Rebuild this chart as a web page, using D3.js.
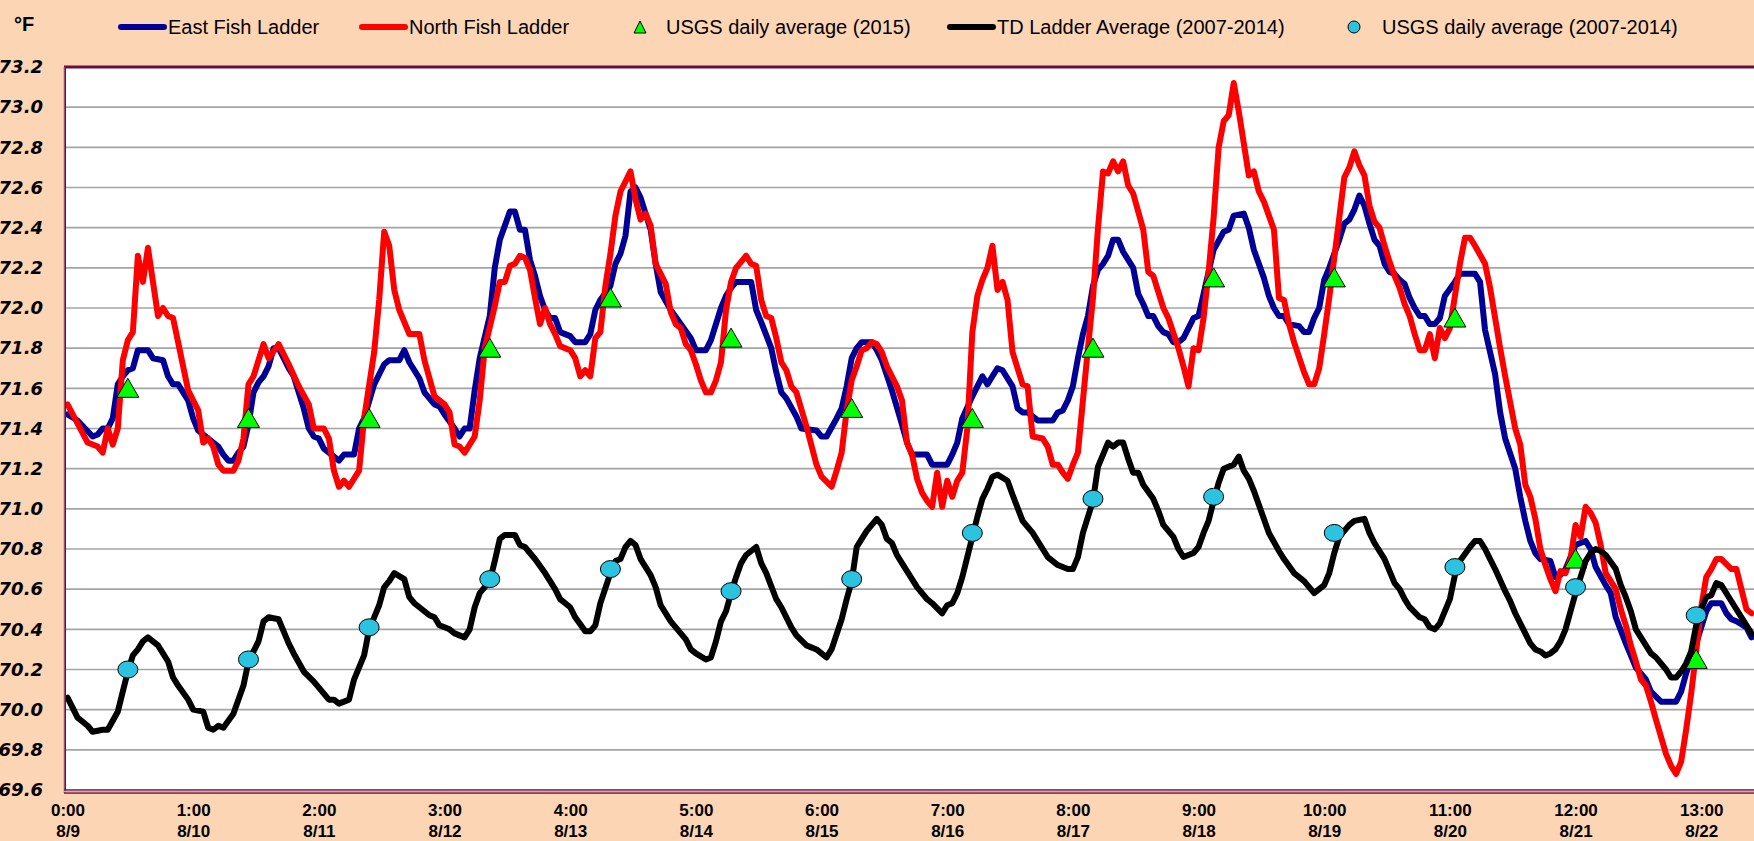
<!DOCTYPE html>
<html><head><meta charset="utf-8">
<script src="https://cdn.jsdelivr.net/npm/d3@7"></script>
<style>
html,body{margin:0;padding:0;background:#FCD5B4;overflow:hidden}
svg{display:block}
</style></head><body>
<svg id="chart" width="1754" height="841"></svg>
<script>
// ---------- DATA (hour index since 8/9 0:00, °F) ----------
const eastLadder = [[0,71.47],[2,71.44],[5,71.36],[6,71.37],[7,71.40],[8,71.40],[9,71.45],[10,71.62],[11,71.66],[12,71.69],[13,71.70],[14,71.79],[16,71.79],[17,71.75],[19,71.74],[20,71.66],[21,71.62],[22,71.62],[24,71.54],[25,71.45],[26,71.39],[28,71.35],[30,71.31],[31,71.27],[32,71.24],[33,71.24],[34,71.28],[35,71.31],[36,71.42],[37,71.58],[38,71.63],[39,71.66],[40,71.71],[41,71.80],[42,71.80],[44,71.70],[45,71.66],[47,71.50],[48,71.40],[49,71.36],[50,71.35],[51,71.30],[53,71.26],[54,71.24],[55,71.27],[57,71.27],[58,71.40],[59,71.45],[61,71.62],[63,71.72],[64,71.74],[66,71.74],[67,71.79],[68,71.73],[70,71.65],[71,71.58],[73,71.52],[74,71.51],[75,71.47],[77,71.40],[78,71.36],[79,71.40],[80,71.40],[81,71.59],[82,71.75],[84,71.96],[85,72.20],[86,72.34],[88,72.48],[89,72.48],[90,72.39],[91,72.39],[92,72.24],[93,72.16],[94,72.06],[95,71.99],[96,71.95],[97,71.95],[98,71.88],[100,71.86],[101,71.83],[103,71.83],[104,71.87],[105,71.99],[106,72.04],[108,72.11],[109,72.22],[110,72.27],[111,72.36],[112,72.58],[113,72.60],[114,72.55],[116,72.39],[117,72.22],[118,72.08],[120,71.99],[122,71.92],[124,71.85],[125,71.79],[127,71.79],[128,71.84],[130,72.00],[131,72.06],[132,72.10],[133,72.13],[136,72.13],[137,71.99],[138,71.93],[140,71.80],[141,71.68],[142,71.58],[143,71.55],[145,71.46],[146,71.40],[149,71.39],[150,71.36],[151,71.36],[153,71.45],[154,71.50],[155,71.61],[156,71.75],[157,71.80],[158,71.83],[160,71.83],[161,71.79],[162,71.74],[164,71.59],[166,71.42],[167,71.33],[168,71.27],[171,71.27],[172,71.22],[175,71.22],[176,71.27],[177,71.33],[178,71.45],[180,71.56],[181,71.61],[182,71.66],[183,71.62],[184,71.66],[185,71.70],[186,71.69],[188,71.61],[189,71.50],[190,71.48],[191,71.48],[193,71.44],[196,71.44],[197,71.48],[198,71.49],[199,71.54],[200,71.61],[201,71.75],[202,71.87],[203,71.96],[204,72.11],[205,72.19],[206,72.22],[207,72.26],[208,72.34],[209,72.34],[210,72.28],[212,72.20],[213,72.07],[214,72.02],[215,71.96],[216,71.96],[217,71.91],[218,71.88],[219,71.87],[220,71.83],[221,71.83],[222,71.85],[224,71.95],[225,71.96],[226,72.07],[227,72.18],[228,72.29],[230,72.38],[231,72.39],[232,72.46],[234,72.47],[235,72.40],[236,72.29],[238,72.15],[239,72.06],[240,72.00],[241,71.96],[242,71.96],[243,71.92],[245,71.91],[246,71.88],[247,71.88],[248,71.95],[249,72.00],[250,72.14],[251,72.20],[253,72.34],[254,72.42],[255,72.44],[256,72.49],[257,72.56],[258,72.51],[259,72.42],[260,72.34],[261,72.31],[262,72.22],[263,72.18],[264,72.17],[265,72.14],[266,72.12],[267,72.05],[268,72.00],[269,71.96],[270,71.96],[271,71.92],[272,71.92],[273,71.95],[274,72.06],[276,72.13],[277,72.17],[280,72.17],[281,72.13],[282,71.89],[284,71.67],[285,71.48],[286,71.35],[288,71.20],[289,71.06],[290,70.94],[291,70.84],[292,70.78],[293,70.75],[295,70.74],[296,70.66],[297,70.67],[298,70.70],[299,70.76],[300,70.82],[302,70.84],[303,70.80],[304,70.71],[306,70.62],[307,70.58],[308,70.46],[310,70.33],[311,70.27],[312,70.21],[314,70.15],[315,70.09],[317,70.04],[320,70.04],[321,70.09],[322,70.18],[323,70.26],[324,70.33],[325,70.41],[326,70.49],[327,70.53],[329,70.53],[330,70.48],[331,70.45],[332,70.44],[334,70.41],[335,70.36]];

const northLadder = [[0,71.52],[4,71.33],[6,71.31],[7,71.28],[8,71.40],[9,71.32],[10,71.40],[11,71.74],[12,71.84],[13,71.88],[14,72.26],[15,72.13],[16,72.30],[18,71.96],[19,72.00],[20,71.96],[21,71.95],[24,71.59],[26,71.49],[27,71.33],[28,71.35],[29,71.31],[30,71.22],[31,71.19],[33,71.19],[34,71.24],[35,71.35],[36,71.62],[37,71.66],[38,71.74],[39,71.82],[40,71.75],[42,71.82],[44,71.72],[46,71.61],[48,71.52],[49,71.40],[51,71.40],[52,71.35],[53,71.19],[54,71.11],[55,71.14],[56,71.11],[58,71.19],[59,71.45],[61,71.78],[62,72.04],[63,72.38],[64,72.31],[65,72.09],[66,71.99],[68,71.87],[70,71.87],[71,71.74],[73,71.56],[75,71.52],[76,71.48],[77,71.32],[78,71.31],[79,71.28],[81,71.36],[82,71.54],[83,71.80],[85,72.01],[86,72.13],[87,72.13],[88,72.21],[89,72.22],[90,72.26],[91,72.25],[92,72.19],[93,72.05],[94,71.92],[95,72.00],[96,71.92],[97,71.87],[98,71.81],[100,71.79],[101,71.75],[102,71.66],[103,71.69],[104,71.66],[105,71.85],[106,71.88],[107,72.11],[108,72.27],[109,72.46],[110,72.58],[112,72.68],[113,72.54],[114,72.44],[115,72.47],[116,72.41],[117,72.22],[119,72.12],[120,71.98],[121,71.92],[122,71.90],[123,71.82],[124,71.79],[125,71.72],[126,71.64],[127,71.58],[128,71.58],[129,71.64],[130,71.73],[131,71.99],[132,72.13],[133,72.20],[135,72.26],[136,72.22],[137,72.21],[138,72.04],[139,71.96],[140,71.95],[141,71.85],[142,71.73],[143,71.69],[144,71.61],[145,71.58],[147,71.41],[149,71.22],[150,71.16],[152,71.11],[153,71.19],[154,71.28],[155,71.49],[156,71.64],[157,71.71],[158,71.79],[159,71.80],[160,71.83],[161,71.82],[162,71.78],[163,71.71],[165,71.61],[166,71.54],[167,71.33],[168,71.27],[169,71.15],[170,71.08],[171,71.04],[172,71.01],[173,71.18],[174,71.01],[175,71.14],[176,71.06],[177,71.14],[178,71.18],[179,71.40],[180,71.88],[181,72.06],[182,72.14],[183,72.20],[184,72.31],[185,72.09],[186,72.13],[187,72.04],[188,71.78],[190,71.62],[191,71.61],[192,71.36],[194,71.35],[195,71.31],[196,71.22],[197,71.22],[198,71.18],[199,71.15],[200,71.22],[201,71.28],[202,71.54],[203,71.80],[204,72.05],[205,72.40],[206,72.68],[207,72.67],[208,72.73],[209,72.68],[210,72.73],[211,72.61],[212,72.57],[213,72.48],[214,72.39],[215,72.18],[216,72.16],[218,72.00],[219,71.95],[221,71.80],[222,71.71],[223,71.61],[224,71.80],[225,71.79],[226,71.95],[227,72.18],[228,72.45],[229,72.80],[230,72.93],[231,72.96],[232,73.12],[233,72.98],[234,72.82],[235,72.66],[236,72.68],[237,72.58],[238,72.53],[239,72.46],[240,72.39],[241,72.05],[242,72.04],[243,71.92],[244,71.83],[246,71.68],[247,71.62],[248,71.62],[249,71.70],[250,71.87],[251,72.05],[252,72.25],[253,72.45],[254,72.65],[255,72.70],[256,72.78],[257,72.71],[258,72.66],[259,72.51],[260,72.43],[261,72.40],[262,72.31],[263,72.23],[264,72.16],[265,72.10],[266,72.02],[267,71.96],[268,71.87],[269,71.79],[270,71.79],[271,71.87],[272,71.75],[273,71.90],[274,71.85],[275,71.90],[276,72.06],[277,72.22],[278,72.35],[279,72.35],[280,72.31],[282,72.22],[283,72.10],[284,71.95],[285,71.80],[286,71.66],[288,71.40],[289,71.32],[290,71.12],[291,71.06],[292,70.95],[293,70.80],[294,70.72],[295,70.65],[296,70.59],[297,70.69],[298,70.68],[299,70.75],[300,70.92],[301,70.86],[302,71.01],[303,70.98],[304,70.93],[305,70.82],[306,70.68],[308,70.60],[309,70.50],[310,70.42],[311,70.32],[312,70.24],[313,70.15],[314,70.12],[315,70.04],[316,69.95],[318,69.78],[319,69.72],[320,69.68],[321,69.74],[322,69.90],[323,70.08],[324,70.29],[325,70.51],[326,70.66],[327,70.70],[328,70.75],[329,70.75],[331,70.70],[332,70.70],[333,70.60],[334,70.50],[335,70.48]];

const tdLadderAvg = [[0,70.06],[1,70.01],[2,69.96],[4,69.92],[5,69.89],[7,69.90],[8,69.90],[10,69.99],[11,70.09],[12,70.19],[13,70.27],[14,70.30],[15,70.34],[16,70.36],[18,70.32],[20,70.24],[21,70.16],[22,70.12],[24,70.05],[25,70.00],[27,69.99],[28,69.91],[29,69.90],[30,69.92],[31,69.91],[33,69.98],[35,70.12],[36,70.24],[38,70.34],[39,70.44],[40,70.46],[42,70.45],[44,70.33],[45,70.28],[47,70.19],[49,70.14],[51,70.08],[52,70.05],[53,70.05],[54,70.03],[56,70.05],[57,70.15],[59,70.27],[60,70.40],[61,70.46],[62,70.52],[63,70.61],[64,70.64],[65,70.68],[67,70.65],[68,70.56],[69,70.53],[71,70.49],[72,70.47],[73,70.46],[74,70.42],[76,70.40],[77,70.38],[79,70.36],[80,70.40],[81,70.51],[82,70.58],[84,70.64],[85,70.74],[86,70.85],[87,70.87],[89,70.87],[90,70.82],[91,70.81],[93,70.75],[95,70.68],[97,70.60],[98,70.55],[100,70.51],[101,70.46],[103,70.39],[104,70.39],[105,70.42],[106,70.53],[108,70.68],[109,70.74],[110,70.75],[111,70.81],[112,70.84],[113,70.82],[114,70.75],[116,70.67],[117,70.61],[118,70.52],[120,70.44],[122,70.38],[123,70.35],[124,70.30],[125,70.28],[127,70.25],[128,70.26],[129,70.34],[130,70.44],[131,70.49],[132,70.58],[133,70.66],[134,70.73],[135,70.77],[137,70.81],[138,70.73],[139,70.68],[141,70.55],[142,70.51],[144,70.41],[145,70.37],[147,70.32],[149,70.30],[150,70.28],[151,70.26],[152,70.30],[154,70.45],[155,70.55],[156,70.64],[157,70.81],[158,70.85],[159,70.89],[161,70.95],[162,70.92],[163,70.85],[164,70.83],[165,70.77],[166,70.73],[168,70.65],[169,70.61],[171,70.55],[172,70.53],[174,70.48],[175,70.52],[176,70.53],[177,70.58],[178,70.66],[179,70.76],[180,70.86],[181,70.96],[182,71.05],[183,71.10],[184,71.16],[185,71.17],[187,71.14],[188,71.07],[190,70.94],[191,70.91],[192,70.88],[194,70.80],[195,70.76],[197,70.72],[199,70.70],[200,70.70],[201,70.76],[202,70.88],[203,70.96],[204,71.04],[205,71.21],[206,71.27],[207,71.33],[208,71.31],[209,71.33],[210,71.33],[211,71.25],[212,71.18],[213,71.18],[214,71.12],[216,71.05],[217,70.99],[218,70.92],[220,70.86],[221,70.80],[222,70.76],[224,70.78],[225,70.81],[226,70.88],[227,70.94],[228,71.04],[229,71.13],[230,71.20],[232,71.22],[233,71.26],[234,71.19],[235,71.15],[236,71.09],[237,71.02],[239,70.88],[241,70.79],[242,70.75],[244,70.68],[246,70.64],[247,70.61],[248,70.58],[250,70.62],[251,70.68],[252,70.78],[253,70.86],[255,70.92],[256,70.94],[258,70.95],[259,70.88],[260,70.83],[262,70.75],[263,70.69],[264,70.63],[265,70.60],[266,70.55],[267,70.51],[269,70.46],[270,70.45],[271,70.41],[272,70.40],[273,70.43],[275,70.55],[276,70.67],[277,70.74],[279,70.81],[280,70.84],[281,70.84],[282,70.80],[283,70.75],[284,70.70],[286,70.59],[287,70.54],[288,70.48],[290,70.38],[291,70.33],[292,70.30],[293,70.29],[294,70.27],[295,70.28],[296,70.30],[297,70.34],[298,70.40],[299,70.49],[300,70.58],[301,70.66],[302,70.74],[303,70.78],[304,70.80],[305,70.79],[306,70.77],[308,70.70],[309,70.62],[310,70.56],[311,70.49],[312,70.40],[313,70.36],[315,70.28],[316,70.26],[318,70.20],[319,70.16],[320,70.16],[321,70.19],[322,70.23],[323,70.29],[324,70.42],[325,70.50],[326,70.56],[327,70.57],[328,70.63],[329,70.62],[331,70.54],[332,70.50],[334,70.42],[335,70.38]];

const dailyHours = [12,36,60,84,108,132,156,180,204,228,252,276,300,324];
const usgsDaily2015 = [71.60,71.45,71.45,71.80,72.05,71.85,71.50,71.45,71.80,72.15,72.15,71.95,70.75,70.25];
const usgsDailyAvg = [70.20,70.25,70.41,70.65,70.70,70.59,70.65,70.88,71.05,71.06,70.88,70.71,70.61,70.47];

const tickHours = [0,25,50,75,100,125,150,175,200,225,250,275,300,325];
const tickTimes = ["0:00","1:00","2:00","3:00","4:00","5:00","6:00","7:00","8:00","9:00","10:00","11:00","12:00","13:00"];
const tickDates = ["8/9","8/10","8/11","8/12","8/13","8/14","8/15","8/16","8/17","8/18","8/19","8/20","8/21","8/22"];
const yTicks = [69.6,69.8,70.0,70.2,70.4,70.6,70.8,71.0,71.2,71.4,71.6,71.8,72.0,72.2,72.4,72.6,72.8,73.0,73.2];

const seriesNames = ["East Fish Ladder","North Fish Ladder","USGS daily average (2015)","TD Ladder Average (2007-2014)","USGS daily average (2007-2014)"];

// ---------- LAYOUT ----------
const W = 1754, H = 841;
const plot = {left: 65, top: 67, right: 1754, bottom: 790};
const svg = d3.select("#chart");
const maroon = "#6A0F3C";

const x = d3.scaleLinear().domain([-0.5, 335.5]).range([plot.left, plot.right]);
const y = d3.scaleLinear().domain([69.6, 73.2]).range([plot.bottom, plot.top]);

// plot background
svg.append("rect").attr("x", plot.left).attr("y", plot.top)
  .attr("width", plot.right - plot.left + 5).attr("height", plot.bottom - plot.top)
  .attr("fill", "#FFFFFF");

// gridlines
svg.append("g").selectAll("line").data(yTicks.filter(v => v > 69.61 && v < 73.19)).join("line")
  .attr("x1", plot.left).attr("x2", W)
  .attr("y1", d => y(d)).attr("y2", d => y(d))
  .attr("stroke", "#A4A4A4").attr("stroke-width", 1.6);

// y axis labels
const yAxis = d3.axisLeft(y).tickValues(yTicks).tickSize(0).tickPadding(0).tickFormat(d3.format(".1f"));
const gy = svg.append("g").attr("transform", `translate(${plot.left - 22},0)`).call(yAxis);
gy.select(".domain").remove();
gy.selectAll("text")
  .attr("font-family", "'DejaVu Sans', Verdana, sans-serif")
  .attr("font-weight", "bold").attr("font-style", "italic")
  .attr("font-size", 18).attr("fill", "#000");

// x axis labels
const xAxis = d3.axisBottom(x).tickValues(tickHours).tickSize(0).tickFormat("");
const gx = svg.append("g").attr("transform", `translate(0,${plot.bottom})`).call(xAxis);
gx.select(".domain").remove();
gx.selectAll(".tick").each(function(d, i) {
  const t = d3.select(this).append("text")
    .attr("text-anchor", "middle")
    .attr("font-family", "'Liberation Sans Narrow', 'Arial Narrow', sans-serif")
    .attr("font-weight", "bold").attr("font-size", 17).attr("fill", "#000");
  t.append("tspan").attr("x", 0).attr("y", 26).text(tickTimes[i]);
  t.append("tspan").attr("x", 0).attr("y", 47).text(tickDates[i]);
});

// series lines
const line = d3.line().x(d => x(d[0])).y(d => y(d[1]));
svg.append("clipPath").attr("id", "clip").append("rect")
  .attr("x", plot.left).attr("y", plot.top - 4).attr("width", W).attr("height", plot.bottom - plot.top + 4);
const gLines = svg.append("g").attr("clip-path", "url(#clip)");
function drawLine(data, color) {
  gLines.append("path").datum(data).attr("d", line)
    .attr("fill", "none").attr("stroke", color).attr("stroke-width", 6)
    .attr("stroke-linejoin", "round").attr("stroke-linecap", "round");
}
drawLine(eastLadder, "#000096");
drawLine(northLadder, "#FF0000");

// triangles
const tri = (cx, cy) => `M${cx - 11},${cy + 9}L${cx},${cy - 10}L${cx + 11},${cy + 9}Z`;
gLines.append("g").selectAll("path").data(dailyHours.map((h, i) => [h, usgsDaily2015[i]])).join("path")
  .attr("d", d => tri(x(d[0]), y(d[1])))
  .attr("fill", "#00FF00").attr("stroke", "#000").attr("stroke-width", 1);

drawLine(tdLadderAvg, "#000000");

gLines.append("g").selectAll("ellipse").data(dailyHours.map((h, i) => [h, usgsDailyAvg[i]])).join("ellipse")
  .attr("cx", d => x(d[0])).attr("cy", d => y(d[1])).attr("rx", 10).attr("ry", 8.5)
  .attr("fill", "#2CC3E0").attr("stroke", "#000").attr("stroke-width", 1);

// plot border
svg.append("line").attr("x1", plot.left - 1).attr("x2", W).attr("y1", plot.top).attr("y2", plot.top)
  .attr("stroke", maroon).attr("stroke-width", 3);
svg.append("line").attr("x1", plot.left).attr("x2", plot.left).attr("y1", plot.top).attr("y2", plot.bottom + 3)
  .attr("stroke", maroon).attr("stroke-width", 2);
svg.append("line").attr("x1", plot.left - 1).attr("x2", plot.left - 1).attr("y1", plot.top).attr("y2", plot.bottom + 3)
  .attr("stroke", "#C890A8").attr("stroke-width", 1);
svg.append("line").attr("x1", plot.left - 1).attr("x2", W).attr("y1", plot.bottom).attr("y2", plot.bottom)
  .attr("stroke", maroon).attr("stroke-width", 1.5);
svg.append("line").attr("x1", plot.left - 1).attr("x2", W).attr("y1", plot.bottom + 3).attr("y2", plot.bottom + 3)
  .attr("stroke", maroon).attr("stroke-width", 1.5);
svg.append("line").attr("x1", plot.left - 1).attr("x2", W).attr("y1", plot.bottom + 1.5).attr("y2", plot.bottom + 1.5)
  .attr("stroke", "#D8A8C0").attr("stroke-width", 1.5);

// unit label
svg.append("text").attr("x", 14).attr("y", 31).text("°F")
  .attr("font-family", "'Liberation Sans', Arial, sans-serif").attr("font-weight", "bold")
  .attr("font-size", 20).attr("fill", "#000");

// legend
const legendY = 27;
const legendFont = "'Liberation Sans Narrow', 'Arial Narrow', sans-serif";
const legendItems = [
  {name: seriesNames[0], type: "line", color: "#000096", x: 118},
  {name: seriesNames[1], type: "line", color: "#FF0000", x: 359},
  {name: seriesNames[2], type: "tri", x: 640},
  {name: seriesNames[3], type: "line", color: "#000000", x: 947},
  {name: seriesNames[4], type: "circ", x: 1354}
];
const gL = svg.append("g");
legendItems.forEach(it => {
  let tx;
  if (it.type === "line") {
    gL.append("line").attr("x1", it.x + 3).attr("x2", it.x + 46).attr("y1", legendY).attr("y2", legendY)
      .attr("stroke", it.color).attr("stroke-width", 6).attr("stroke-linecap", "round");
    tx = it.x + 50;
  } else if (it.type === "tri") {
    gL.append("path").attr("d", `M${it.x - 6},${legendY + 6}L${it.x},${legendY - 6}L${it.x + 6},${legendY + 6}Z`)
      .attr("fill", "#00FF00").attr("stroke", "#000").attr("stroke-width", 1);
    tx = it.x + 26;
  } else {
    gL.append("ellipse").attr("cx", it.x).attr("cy", legendY).attr("rx", 6).attr("ry", 6)
      .attr("fill", "#2CC3E0").attr("stroke", "#000").attr("stroke-width", 1);
    tx = it.x + 28;
  }
  gL.append("text").attr("x", tx).attr("y", legendY + 7).text(it.name)
    .attr("font-family", legendFont).attr("font-size", 20).attr("fill", "#000");
});
</script>
</body></html>
